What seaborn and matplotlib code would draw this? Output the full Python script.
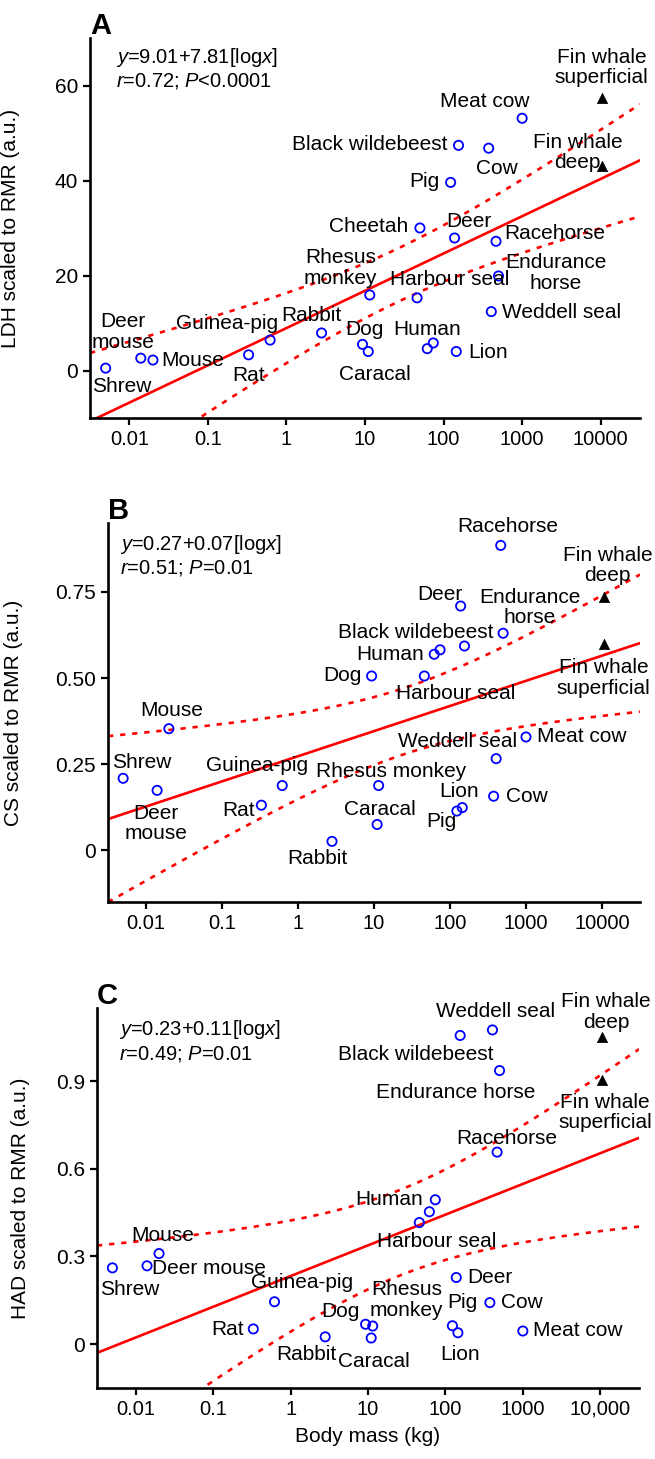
import numpy as np
import pandas as pd
import matplotlib
matplotlib.use("Agg")
import matplotlib.pyplot as plt
import seaborn as sns

# values (body mass in kg, enzyme activity scaled to RMR)
species = ["Shrew", "Deer mouse", "Mouse", "Rat", "Guinea-pig", "Rabbit", "Dog", "Caracal",
           "Rhesus monkey", "Harbour seal", "Cheetah", "Human", "Human", "Pig", "Deer", "Lion",
           "Black wildebeest", "Cow", "Weddell seal", "Racehorse", "Endurance horse", "Meat cow",
           "Fin whale superficial", "Fin whale deep"]
body_mass = [0.005, 0.014, 0.02, 0.33, 0.62, 2.8, 9.3, 11, 11.5, 46, 50, 62, 74, 123, 138, 145,
             155, 375, 405, 465, 500, 1000, 10500, 10500]
ldh = [0.5, 2.6, 2.2, 3.3, 6.4, 7.9, 5.5, 4.0, 15.9, 15.3, 30.0, 4.6, 5.8, 39.6, 27.9, 4.0,
       47.4, 46.8, 12.4, 27.2, 19.9, 53.1, 57.3, 43.0]
cs = [0.209, 0.174, 0.353, 0.131, 0.188, 0.026, 0.506, 0.075, 0.188, 0.506, np.nan, 0.569, 0.582,
      0.114, 0.709, 0.124, 0.593, 0.157, 0.266, 0.885, 0.630, 0.329, 0.599, 0.736]
had = [0.261, 0.268, 0.310, 0.052, 0.145, 0.025, 0.068, 0.021, 0.062, 0.416, np.nan, 0.453, 0.494,
       0.063, 0.228, 0.039, 1.056, 0.142, 1.075, 0.657, 0.936, 0.045, 0.902, 1.050]

x_ticks = [0.01, 0.1, 1, 10, 100, 1000, 10000]
x_ticklabels_ab = ["0.01", "0.1", "1", "10", "100", "1000", "10000"]
x_ticklabels_c = ["0.01", "0.1", "1", "10", "100", "1000", "10,000"]

equations = {
    "A": "$y$=9.01+7.81[log$x$]\n$r$=0.72; $P$<0.0001",
    "B": "$y$=0.27+0.07[log$x$]\n$r$=0.51; $P$=0.01",
    "C": "$y$=0.23+0.11[log$x$]\n$r$=0.49; $P$=0.01",
}

# label text and offset from its point in pixels (dx right, dy down), alignment
labels_a = {
    "Shrew": ("Shrew", 16, 18, "center"),
    "Deer mouse": ("Deer\nmouse", -18, -26, "center"),
    "Mouse": ("Mouse", 8, 0, "left"),
    "Rat": ("Rat", 0, 21, "center"),
    "Guinea-pig": ("Guinea-pig", -43, -17, "center"),
    "Rabbit": ("Rabbit", -10, -17, "center"),
    "Dog": ("Dog", 2, -15, "center"),
    "Caracal": ("Caracal", 7, 23, "center"),
    "Rhesus monkey": ("Rhesus\nmonkey", -29, -27, "center"),
    "Harbour seal": ("Harbour seal", 33, -18, "center"),
    "Cheetah": ("Cheetah", -12, -2, "right"),
    "Human": ("Human", 0, -19, "center"),
    "Pig": ("Pig", -11, -1, "right"),
    "Deer": ("Deer", 14, -16, "center"),
    "Lion": ("Lion", 12, 1, "left"),
    "Black wildebeest": ("Black wildebeest", -11, -1, "right"),
    "Cow": ("Cow", 8, 20, "center"),
    "Weddell seal": ("Weddell seal", 11, 1, "left"),
    "Racehorse": ("Racehorse", 8, -8, "left"),
    "Endurance horse": ("Endurance\nhorse", 57, -3, "center"),
    "Meat cow": ("Meat cow", -37, -17, "center"),
    "Fin whale superficial": ("Fin whale\nsuperficial", -1, -31, "center"),
    "Fin whale deep": ("Fin whale\ndeep", -25, -14, "center"),
}
labels_b = {
    "Shrew": ("Shrew", 19, -16, "center"),
    "Deer mouse": ("Deer\nmouse", -1, 33, "center"),
    "Mouse": ("Mouse", 3, -18, "center"),
    "Rat": ("Rat", -7, 5, "right"),
    "Guinea-pig": ("Guinea-pig", -25, -20, "center"),
    "Rabbit": ("Rabbit", -15, 17, "center"),
    "Dog": ("Dog", -10, 0, "right"),
    "Caracal": ("Caracal", 3, -15, "center"),
    "Rhesus monkey": ("Rhesus monkey", 13, -14, "center"),
    "Harbour seal": ("Harbour seal", 31, 18, "center"),
    "Human": ("Human", -10, 0, "right"),
    "Pig": ("Pig", -15, 10, "center"),
    "Deer": ("Deer", -21, -12, "center"),
    "Lion": ("Lion", -3, -16, "center"),
    "Black wildebeest": ("Black wildebeest", -49, -14, "center"),
    "Cow": ("Cow", 12, 0, "left"),
    "Weddell seal": ("Weddell seal", -39, -17, "center"),
    "Racehorse": ("Racehorse", 7, -19, "center"),
    "Endurance horse": ("Endurance\nhorse", 27, -26, "center"),
    "Meat cow": ("Meat cow", 11, 0, "left"),
    "Fin whale superficial": ("Fin whale\nsuperficial", 0, 34, "center"),
    "Fin whale deep": ("Fin whale\ndeep", 4, -31, "center"),
}
labels_c = {
    "Shrew": ("Shrew", 17, 22, "center"),
    "Deer mouse": ("Deer mouse", 5, 3, "left"),
    "Mouse": ("Mouse", 4, -18, "center"),
    "Rat": ("Rat", -9, 1, "right"),
    "Guinea-pig": ("Guinea-pig", 28, -19, "center"),
    "Rabbit": ("Rabbit", -19, 18, "center"),
    "Dog": ("Dog", -6, -13, "right"),
    "Caracal": ("Caracal", 3, 23, "center"),
    "Rhesus monkey": ("Rhesus\nmonkey", 34, -26, "center"),
    "Harbour seal": ("Harbour seal", 17, 19, "center"),
    "Human": ("Human", -6, -12, "right"),
    "Pig": ("Pig", 10, -23, "center"),
    "Deer": ("Deer", 11, 0, "left"),
    "Lion": ("Lion", 2, 22, "center"),
    "Black wildebeest": ("Black wildebeest", -44, 19, "center"),
    "Cow": ("Cow", 11, 0, "left"),
    "Weddell seal": ("Weddell seal", 3, -18, "center"),
    "Racehorse": ("Racehorse", 10, -14, "center"),
    "Endurance horse": ("Endurance horse", -44, 22, "center"),
    "Meat cow": ("Meat cow", 10, 0, "left"),
    "Fin whale superficial": ("Fin whale\nsuperficial", 3, 32, "center"),
    "Fin whale deep": ("Fin whale\ndeep", 4, -25, "center"),
}

sns.set_style("ticks")
plt.rcParams["font.family"] = ["Liberation Sans", "DejaVu Sans"]
plt.rcParams["mathtext.fontset"] = "custom"
plt.rcParams["mathtext.rm"] = "Liberation Sans"
plt.rcParams["mathtext.it"] = "Liberation Sans:italic"
for key in ("text.color", "axes.labelcolor", "xtick.color", "ytick.color", "axes.edgecolor"):
    plt.rcParams[key] = "black"

df = pd.DataFrame({"species": species, "mass": body_mass, "LDH": ldh, "CS": cs, "HAD": had})
df["whale"] = df["species"].str.startswith("Fin whale")

LOG_MIN, LOG_MAX = -2.5, 4.5


def fit_with_band(col):
    d = df.dropna(subset=[col])
    lx = np.log10(d["mass"].to_numpy())
    y = d[col].to_numpy()
    n = len(lx)
    slope, icpt = np.polyfit(lx, y, 1)
    resid = y - (icpt + slope * lx)
    s = np.sqrt(np.sum(resid ** 2) / (n - 2))
    grid = np.linspace(LOG_MIN, LOG_MAX, 300)
    fit = icpt + slope * grid
    se = s * np.sqrt(1 / n + (grid - lx.mean()) ** 2 / np.sum((lx - lx.mean()) ** 2))
    t = 2.08  # t(0.975, ~21 df)
    return 10 ** grid, fit, fit - t * se, fit + t * se


fig = plt.figure(figsize=(6.55, 14.59), dpi=100)
W, H = 655, 1459
# panel boxes in pixels: left, right, top, bottom
boxes = {"A": (90, 640, 38, 418), "B": (108, 640, 523, 902), "C": (97, 639, 1008, 1388)}
panels = [
    ("A", "LDH", "LDH scaled to RMR (a.u.)", (-10, 70), [0, 20, 40, 60], ["0", "20", "40", "60"],
     labels_a, x_ticklabels_ab, 0.047, 0.979, -0.127),
    ("B", "CS", "CS scaled to RMR (a.u.)", (-0.15, 0.95), [0, 0.25, 0.5, 0.75],
     ["0", "0.25", "0.50", "0.75"], labels_b, x_ticklabels_ab, 0.023, 0.974, -0.159),
    ("C", "HAD", "HAD scaled to RMR (a.u.)", (-0.15, 1.15), [0, 0.3, 0.6, 0.9],
     ["0", "0.3", "0.6", "0.9"], labels_c, x_ticklabels_c, 0.04, 0.973, -0.124),
]

for letter, col, ylab, ylim, yt, ytl, labs, xtl, eq_x, eq_y, ylab_x in panels:
    l, r, t, b = boxes[letter]
    ax = fig.add_axes([l / W, (H - b) / H, (r - l) / W, (b - t) / H])
    sub = df.dropna(subset=[col])

    xs, fit, lo, hi = fit_with_band(col)
    ax.plot(xs, fit, color="red", lw=1.9, zorder=2)
    for band in (lo, hi):
        ax.plot(xs, band, color="red", lw=1.9, ls=(0, (2, 2.6)), zorder=2)

    sns.scatterplot(data=sub[~sub["whale"]], x="mass", y=col, ax=ax, marker="o", s=44,
                    facecolor="none", edgecolor="blue", linewidth=1.3, zorder=3)
    sns.scatterplot(data=sub[sub["whale"]], x="mass", y=col, ax=ax, marker="^", s=55,
                    color="black", edgecolor="black", linewidth=0.5, zorder=3)

    seen = set()
    for name, mx, val in zip(sub["species"], sub["mass"], sub[col]):
        if name in seen or name not in labs:
            continue
        seen.add(name)
        txt, dx, dy, ha = labs[name]
        ax.annotate(txt, (mx, val), xytext=(dx, -dy), textcoords="offset pixels",
                    ha=ha, va="center", fontsize=15, linespacing=1.1, color="black",
                    multialignment="center", annotation_clip=False, zorder=4)

    ax.set_xscale("log")
    ax.set_xlim(10 ** LOG_MIN, 10 ** LOG_MAX)
    ax.set_ylim(*ylim)
    ax.set_xticks(x_ticks)
    ax.set_xticklabels(xtl)
    ax.xaxis.set_minor_locator(matplotlib.ticker.NullLocator())
    ax.set_yticks(yt)
    ax.set_yticklabels(ytl)
    ax.tick_params(axis="both", direction="out", length=5, width=1.6, labelsize=14.5,
                   color="black", labelcolor="black")
    ax.tick_params(axis="y", labelsize=15)
    for side in ("top", "right"):
        ax.spines[side].set_visible(False)
    for side in ("left", "bottom"):
        ax.spines[side].set_linewidth(1.9)
        ax.spines[side].set_color("black")

    ax.set_ylabel(ylab, fontsize=15, color="black")
    ax.yaxis.set_label_coords(ylab_x, 0.5)
    if letter == "C":
        ax.set_xlabel("Body mass (kg)", fontsize=15, labelpad=6, color="black")
    else:
        ax.set_xlabel("")

    ax.text(eq_x, eq_y, equations[letter], transform=ax.transAxes, ha="left", va="top",
            fontsize=14.5, linespacing=1.15, color="black")
    ax.text(0.0, 1.01, letter, transform=ax.transAxes, ha="left", va="baseline",
            fontsize=21, fontweight="bold", color="black")

fig.savefig("out.png", dpi=100)
